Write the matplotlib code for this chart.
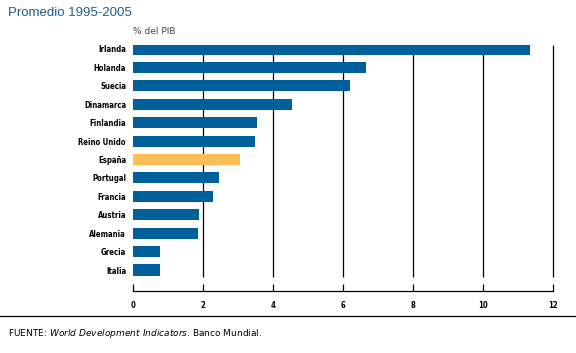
import numpy as np
import matplotlib.pyplot as plt
from matplotlib.lines import Line2D

paises = ['Irlanda', 'Holanda', 'Suecia', 'Dinamarca', 'Finlandia', 'Reino Unido',
          'España', 'Portugal', 'Francia', 'Austria', 'Alemania', 'Grecia', 'Italia']
valores = [11.34, 6.66, 6.2, 4.53, 3.53, 3.49, 3.06, 2.46, 2.28, 1.89, 1.86, 0.77, 0.77]
resaltado = 'España'
xticks = [0, 2, 4, 6, 8, 10, 12]

azul = '#00609c'
naranja = '#fdbe57'

fig = plt.figure(figsize=(5.76, 3.53), dpi=100)
ax = fig.add_axes([133/576, 1 - 291/353, 420/576, 246/353])

y = np.arange(len(paises))
colores = [naranja if p == resaltado else azul for p in paises]
ax.vlines(xticks[1:], -0.217, 12.38, color='black', lw=0.9, zorder=1, clip_on=False)
ax.barh(y, valores, height=0.6, color=colores, zorder=2)

ax.set_xlim(0, 12)
ax.set_ylim(13.14, -0.217)
ax.set_yticks(y)
ax.set_yticklabels(paises)
ax.set_xticks(xticks)
ax.set_xticklabels([str(t) for t in xticks])

fuente = dict(family='DejaVu Sans', stretch='condensed', weight='bold', size=5.6)
for lab in ax.get_yticklabels() + ax.get_xticklabels():
    lab.set(**fuente)

ax.tick_params(axis='y', length=0, pad=5)
ax.tick_params(axis='x', direction='in', length=5, width=0.9, pad=7)
for s in ['top', 'right', 'left']:
    ax.spines[s].set_visible(False)
ax.spines['bottom'].set_linewidth(0.9)

fig.text(8/576, 1 - 13/353, 'Promedio 1995-2005', color='#1f5d8c', fontsize=9.5,
         family='Liberation Sans', va='center', ha='left')
fig.text(133/576, 1 - 31/353, '% del PIB', color='#444444', fontsize=6.5,
         va='center', ha='left')
fig.add_artist(Line2D([0, 1], [1 - 316/353, 1 - 316/353], color='black', lw=0.9))
fig.text(8/576, 1 - 333/353, r'FUENTE: $\it{World\ Development\ Indicators}$. Banco Mundial.',
         fontsize=6.5, va='center', ha='left')

plt.savefig('out.png', dpi=100)
